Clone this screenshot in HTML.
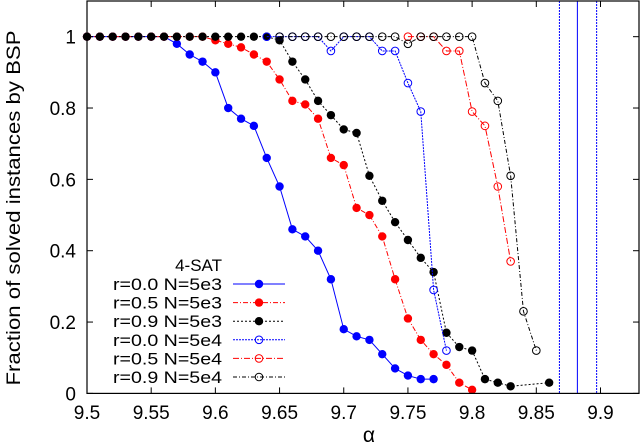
<!DOCTYPE html>
<html><head><meta charset="utf-8"><style>
html,body{margin:0;padding:0;background:#fff;}
svg{display:block;font-family:"Liberation Sans",sans-serif;}
</style></head><body>
<svg id="chart" width="640" height="448" xmlns="http://www.w3.org/2000/svg"></svg>
<script>
const xTicks = [9.5,9.55,9.6,9.65,9.7,9.75,9.8,9.85,9.9];
const xTickLabels = ["9.5","9.55","9.6","9.65","9.7","9.75","9.8","9.85","9.9"];
const yTicks = [0,0.2,0.4,0.6,0.8,1];
const yTickLabels = ["0","0.2","0.4","0.6","0.8","1"];
const alphaA = [9.5,9.51,9.52,9.53,9.54,9.55,9.56,9.57,9.58,9.59,9.6,9.61,9.62,9.63,9.64,9.65,9.66,9.67,9.68,9.69,9.7,9.71,9.72,9.73,9.74,9.75,9.76,9.77];
const r0N5e3 = [1,1,1,1,1,1,1,0.98,0.95,0.93,0.9,0.8,0.77,0.75,0.66,0.58,0.46,0.44,0.4,0.32,0.18,0.16,0.15,0.11,0.07,0.05,0.04,0.04];
const alphaB = [9.5,9.51,9.52,9.53,9.54,9.55,9.56,9.57,9.58,9.59,9.6,9.61,9.62,9.63,9.64,9.65,9.66,9.67,9.68,9.69,9.7,9.71,9.72,9.73,9.74,9.75,9.76,9.77,9.78,9.79,9.8];
const r5N5e3 = [1,1,1,1,1,1,1,1,1,1,0.99,0.98,0.97,0.95,0.93,0.88,0.82,0.81,0.77,0.66,0.64,0.52,0.5,0.44,0.32,0.21,0.15,0.11,0.08,0.03,0.01];
const alphaC = [9.5,9.51,9.52,9.53,9.54,9.55,9.56,9.57,9.58,9.59,9.6,9.61,9.62,9.63,9.64,9.65,9.66,9.67,9.68,9.69,9.7,9.71,9.72,9.73,9.74,9.75,9.76,9.77,9.78,9.79,9.8,9.81,9.82,9.83,9.86];
const r9N5e3 = [1,1,1,1,1,1,1,1,1,1,1,1,1,1,1,0.99,0.93,0.88,0.82,0.78,0.74,0.73,0.61,0.54,0.48,0.43,0.38,0.34,0.17,0.13,0.12,0.04,0.03,0.02,0.03];
const alphaD = [9.64,9.65,9.66,9.67,9.68,9.69,9.7,9.71,9.72,9.73,9.74,9.75,9.76,9.77,9.78];
const r0N5e4 = [1,1,1,1,1,0.96,1,1,1,0.96,0.96,0.87,0.79,0.29,0.12];
const alphaE = [9.75,9.76,9.77,9.78,9.79,9.8,9.81,9.82,9.83];
const r5N5e4 = [1,1,1,0.96,0.96,0.79,0.75,0.58,0.37];
const alphaF = [9.65,9.66,9.67,9.68,9.69,9.7,9.71,9.72,9.73,9.74,9.75,9.76,9.77,9.78,9.79,9.8,9.81,9.82,9.83,9.84,9.85];
const r9N5e4 = [1,1,1,1,1,1,1,1,1,1,0.98,1,1,1,1,1,0.87,0.82,0.61,0.23,0.12];
const vLines = [9.868,9.882,9.897];

const NS="http://www.w3.org/2000/svg";
const svg=document.getElementById('chart');
const L=87,R=639,T=1,B=393.4;
const X0=9.5,X1=9.93,Y0=0,Y1=1.1;
const sx=v=>L+(v-X0)/(X1-X0)*(R-L);
const sy=v=>B-(v-Y0)/(Y1-Y0)*(B-T);
function mk(tag,attrs,parent){const e=document.createElementNS(NS,tag);for(const k in attrs)e.setAttribute(k,attrs[k]);(parent||svg).appendChild(e);return e;}

const axes=mk('g',{});


xTicks.forEach((t,i)=>{
  const x=sx(t);
  const g=mk('g',{},axes);
  
  
  mk('line',{x1:x,x2:x,y1:B,y2:B-6,stroke:'#000','stroke-width':1},g);
  mk('line',{x1:x,x2:x,y1:T,y2:T+6,stroke:'#000','stroke-width':1},g);
  const tx=mk('text',{x:x,y:419,'text-anchor':'middle','font-size':19},g);
  tx.textContent=xTickLabels[i];
});
yTicks.forEach((t,i)=>{
  const y=sy(t);
  const g=mk('g',{},axes);
  
  
  mk('line',{x1:L,x2:L+6,y1:y,y2:y,stroke:'#000','stroke-width':1},g);
  mk('line',{x1:R,x2:R-6,y1:y,y2:y,stroke:'#000','stroke-width':1},g);
  const tx=mk('text',{x:76,y:y+7,'text-anchor':'end','font-size':19},g);
  tx.textContent=yTickLabels[i];
});
const xl=mk('text',{x:369,y:442,'text-anchor':'middle','font-size':21});
xl.textContent='α';


const yl=mk('text',{x:0,y:0,'text-anchor':'middle','font-size':19,textLength:355,lengthAdjust:'spacingAndGlyphs',transform:'translate(20,208) rotate(-90)'});
yl.textContent='Fraction of solved instances by BSP';



vLines.forEach((v,i)=>{
  const l=mk('line',{x1:sx(v),x2:sx(v),y1:T,y2:B,stroke:'#0000ff','stroke-width':1,'stroke-dasharray':i===1?'none':'2,1'});
  
  
});

const series=[
 {xs:alphaA,ys:r0N5e3,c:'#0000ff',dash:'none',open:false,label:'r=0.0 N=5e3',name:'series-r0-n5e3'},
 {xs:alphaB,ys:r5N5e3,c:'#ff0000',dash:'5,2,1,2',open:false,label:'r=0.5 N=5e3',name:'series-r05-n5e3'},
 {xs:alphaC,ys:r9N5e3,c:'#000000',dash:'2,2',open:false,label:'r=0.9 N=5e3',name:'series-r09-n5e3'},
 {xs:alphaD,ys:r0N5e4,c:'#0000ff',dash:'2,1',open:true,label:'r=0.0 N=5e4',name:'series-r0-n5e4'},
 {xs:alphaE,ys:r5N5e4,c:'#ff0000',dash:'6,2,1,2',open:true,label:'r=0.5 N=5e4',name:'series-r05-n5e4'},
 {xs:alphaF,ys:r9N5e4,c:'#000000',dash:'4,2,1,2',open:true,label:'r=0.9 N=5e4',name:'series-r09-n5e4'}
];
function marker(g,x,y,s){
  if(s.open) mk('circle',{cx:x,cy:y,r:3.8,fill:'none',stroke:s.c,'stroke-width':1},g);
  else mk('circle',{cx:x,cy:y,r:4.2,fill:s.c},g);
}
series.forEach(s=>{
  const g=mk('g',{});
  
  
  const pts=s.xs.map((a,i)=>sx(a)+','+sy(s.ys[i])).join(' ');
  mk('polyline',{points:pts,fill:'none',stroke:s.c,'stroke-width':1,'stroke-dasharray':s.dash},g);
  s.xs.forEach((a,i)=>{
    const c=mk('g',{},g);
    
    
    marker(c,sx(a),sy(s.ys[i]),s);
  });
});

const leg=mk('g',{});


const lt=mk('text',{x:222,y:271,'text-anchor':'end','font-size':17},leg);
lt.textContent='4-SAT';
const rowsY=[284,302.6,321.2,339.8,358.4,377];
series.forEach((s,i)=>{
  const y=rowsY[i];
  const e=mk('g',{},leg);
  
  
  const t=mk('text',{x:222,y:y+6,'text-anchor':'end','font-size':17,textLength:109,lengthAdjust:'spacingAndGlyphs'},e);
  t.textContent=s.label;
  mk('line',{x1:233,x2:285,y1:y,y2:y,stroke:s.c,'stroke-width':1,'stroke-dasharray':s.dash},e);
  marker(e,259,y,s);
});

const fr=mk('rect',{x:L,y:T,width:R-L,height:B-T,fill:'none',stroke:'#000','stroke-width':1.2});


</script>
</body></html>
